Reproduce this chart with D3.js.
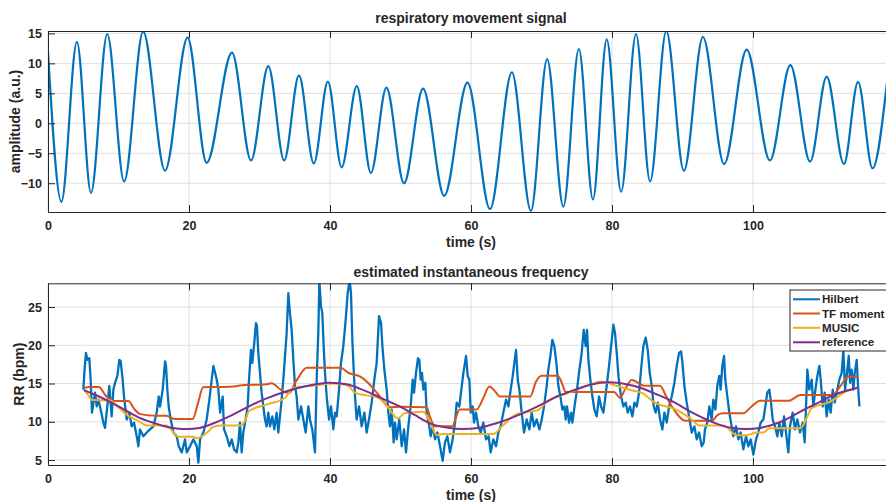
<!DOCTYPE html>
<html>
<head>
<meta charset="utf-8">
<script src="https://cdn.jsdelivr.net/npm/d3@7"></script>
<style>
  body { margin: 0; background: #ffffff; overflow: hidden; }
  text { font-family: "Liberation Sans", Arial, Helvetica, sans-serif; font-weight: bold; fill: #262626; }
</style>
</head>
<body>
<div id="chart"></div>
<script>
// respiratory movement signal: extrema (peaks / troughs)
const signalTime = [0, 1.9, 4.1, 6.1, 8.4, 10.8, 13.5, 16.6, 19.8, 22.5, 26.1, 28.8, 31.25, 33.5, 35.6, 37.7, 39.7, 41.65, 43.8, 45.8, 48.0, 50.5, 53.2, 56.2, 59.5, 62.7, 65.8, 68.5, 70.8, 73.1, 75.3, 77.3, 79.25, 81.3, 83.4, 85.4, 87.7, 90.2, 92.9, 95.9, 99.1, 102.4, 105.3, 108.1, 110.45, 112.9, 114.9, 116.95, 119.0];
const signalValue = [11.9, -13.1, 13.6, -11.6, 14.9, -9.7, 15.3, -7.9, 14.3, -6.6, 11.8, -6.2, 9.55, -6.2, 8.0, -6.7, 6.95, -7.35, 6.2, -8.3, 5.95, -10.0, 5.8, -12.1, 6.8, -14.3, 8.5, -14.6, 10.7, -13.9, 12.4, -12.7, 14.0, -11.4, 14.9, -9.7, 15.4, -7.9, 14.4, -6.8, 12.3, -6.2, 9.7, -6.4, 7.8, -6.8, 6.9, -7.5, 6.8];

// Hilbert estimate
const hilbertTime = [5.01, 5.2, 5.39, 5.58, 5.86, 6.05, 6.24, 6.67, 6.91, 7.14, 7.47, 7.85, 8.09, 8.32, 8.7, 9.03, 9.27, 9.51, 9.84, 10.12, 10.31, 10.59, 10.78, 11.16, 11.54, 11.87, 12.2, 12.58, 12.82, 13.05, 13.53, 14.0, 14.47, 14.95, 15.42, 15.7, 15.89, 16.27, 16.6, 16.74, 16.93, 17.12, 17.41, 17.78, 18.26, 18.54, 18.97, 19.44, 19.68, 20.15, 20.62, 21.1, 21.33, 21.57, 22.04, 22.51, 22.89, 23.22, 23.46, 23.7, 23.93, 24.17, 24.41, 24.78, 24.97, 25.35, 25.73, 26.06, 26.39, 26.77,
  27.0, 27.23, 27.47, 27.7, 28.03, 28.32, 28.51, 28.79, 28.98, 29.26, 29.5, 29.64, 29.83, 30.07, 30.3, 30.54, 30.78, 31.01, 31.25, 31.49, 31.82, 32.1, 32.43, 32.67, 33.05, 33.38, 33.62, 33.85, 34.09, 34.32, 34.56, 34.8, 35.03, 35.27, 35.51, 35.89, 36.22, 36.55, 36.93, 37.16, 37.49, 37.87, 38.11, 38.35, 38.49, 38.72, 38.91, 39.1, 39.29, 39.53, 39.86, 40.14, 40.47, 40.71, 40.95, 41.28, 41.56, 41.89, 42.22, 42.51, 42.79, 42.98, 43.17, 43.36, 43.55, 43.78, 44.12, 44.49, 44.87, 45.2, 45.53, 45.91, 46.29, 46.62, 46.95, 47.24, 47.43, 47.71, 48.04, 48.28, 48.51, 48.75, 49.03,
  49.22, 49.46, 49.83, 50.17, 50.5, 50.78, 51.11, 51.44, 51.73, 51.92, 52.2, 52.48, 52.67, 52.86, 53.05, 53.24, 53.52, 53.71, 54.0, 54.28, 54.56, 54.9, 55.23, 55.61, 55.98, 56.31, 56.65, 57.02, 57.4, 57.73, 57.97, 58.35, 58.63, 58.92, 59.3, 59.53, 59.77, 59.96, 60.24, 60.43, 60.71, 61.04, 61.38, 61.75, 62.13, 62.51, 62.79, 63.17, 63.55, 63.88, 64.21, 64.59, 64.97, 65.3, 65.63, 65.92, 66.2, 66.39, 66.63, 66.86, 67.19, 67.52, 67.9, 68.28, 68.61, 68.94, 69.32, 69.7, 70.03, 70.36, 70.74,
  70.97, 71.26, 71.54, 71.82, 72.11, 72.39, 72.68, 72.96, 73.24, 73.43, 73.62, 73.91, 74.19, 74.38, 74.76, 75.04, 75.32, 75.7, 75.99, 76.27, 76.46, 76.65, 76.93, 77.22, 77.5, 77.83, 78.16, 78.45, 78.78, 79.01, 79.3, 79.58, 79.87, 80.2, 80.43, 80.67, 80.91, 81.28, 81.62, 81.95, 82.23, 82.56, 82.89, 83.18, 83.51, 83.84, 84.12, 84.45, 84.78, 85.07, 85.35, 85.64, 85.92, 86.2, 86.49, 86.82, 87.15, 87.43, 87.76, 88.1, 88.47, 88.85, 89.18, 89.51, 89.8, 89.99, 90.27, 90.6, 90.93, 91.31, 91.69, 92.02, 92.35, 92.73, 93.01,
  93.19, 93.52, 93.8, 94.14, 94.37, 94.66, 94.94, 95.22, 95.41, 95.65, 95.89, 96.07, 96.36, 96.64, 96.97, 97.21, 97.59, 97.92, 98.25, 98.63, 99.01, 99.34, 99.67, 100.05, 100.43, 100.76, 101.09, 101.47, 101.75, 102.03, 102.32, 102.55, 102.79, 103.12, 103.45, 103.74, 104.07, 104.4, 104.68, 105.01, 105.25, 105.63, 105.96, 106.29, 106.67, 107.05, 107.33, 107.52, 107.71, 107.99, 108.33, 108.56, 108.85, 109.13, 109.41, 109.6, 109.89, 110.17, 110.45, 110.74, 111.02, 111.31, 111.59, 111.87, 112.25, 112.58, 112.82, 113.06, 113.29, 113.58, 113.77, 114.0, 114.24, 114.43, 114.71, 114.9, 115.09];
const hilbertValue = [14.2, 17.0, 19.0, 18.1, 18.3, 15.5, 11.2, 13.8, 12.0, 12.9, 11.6, 9.9, 9.2, 11.2, 14.7, 10.7, 14.2, 15.1, 16.0, 18.1, 17.9, 15.5, 13.3, 10.3, 11.2, 9.4, 9.9, 8.1, 6.8, 9.0, 8.1, 8.6, 9.0, 9.4, 11.2, 13.3, 12.0, 14.2, 17.9, 17.3, 14.2, 12.0, 10.3, 8.6, 8.1, 6.8, 6.0, 7.7, 6.0, 6.8, 7.7, 6.8, 4.65, 7.7, 8.6, 10.3, 12.9, 15.5, 17.3, 16.4, 15.5, 14.2, 11.2, 13.3, 9.0, 8.1, 6.8, 7.7, 6.4, 6.0,
  7.3, 9.9, 6.0, 8.6, 10.3, 12.0, 15.5, 19.4, 17.7, 20.3, 22.9, 22.5, 19.0, 16.4, 13.8, 12.0, 10.3, 9.4, 11.2, 9.4, 10.7, 9.0, 11.2, 8.6, 12.0, 15.5, 18.6, 21.6, 26.8, 24.2, 22.0, 18.1, 14.7, 13.3, 10.3, 12.0, 10.3, 8.6, 12.0, 10.3, 9.0, 6.0, 15.5, 22.0, 28.5, 25.1, 24.2, 19.9, 16.4, 13.3, 10.3, 12.0, 9.0, 11.2, 10.7, 14.2, 17.7, 19.9, 23.3, 26.8, 28.5, 26.8, 20.7, 16.8, 13.3, 10.3, 12.0, 9.4, 11.2, 8.6, 10.3, 12.5, 15.5, 17.7, 23.8, 22.9, 19.9, 16.8, 14.2, 11.2, 9.4, 11.6, 7.3,
  9.9, 7.7, 10.3, 6.8, 9.0, 6.0, 9.4, 12.0, 15.5, 13.8, 16.4, 18.3, 18.1, 15.5, 16.4, 14.2, 15.1, 11.2, 9.9, 8.1, 9.4, 7.7, 8.6, 6.8, 4.9, 7.3, 8.1, 6.0, 7.7, 9.9, 12.5, 12.0, 14.2, 16.4, 18.6, 16.0, 15.5, 11.2, 12.0, 9.9, 11.2, 9.4, 8.6, 9.9, 7.7, 8.1, 6.0, 7.7, 6.8, 8.6, 9.4, 11.2, 12.9, 12.0, 14.2, 16.0, 18.1, 19.4, 15.5, 14.2, 11.2, 8.6, 10.3, 9.0, 11.2, 9.4, 10.3, 9.0, 10.3, 12.0, 14.7,
  16.8, 18.6, 20.7, 19.9, 17.7, 14.7, 13.3, 11.6, 12.0, 10.3, 12.0, 9.9, 11.2, 9.9, 12.5, 14.2, 16.4, 19.0, 22.0, 19.9, 22.0, 18.1, 15.5, 13.3, 11.6, 10.7, 13.3, 12.0, 11.2, 12.9, 15.1, 17.3, 19.9, 22.7, 21.6, 19.0, 16.0, 13.3, 12.0, 12.5, 11.2, 12.0, 10.7, 12.5, 12.0, 13.8, 16.8, 19.9, 21.0, 19.4, 16.4, 14.7, 12.0, 11.2, 12.5, 10.3, 9.0, 11.2, 9.9, 12.0, 13.3, 15.1, 17.3, 19.0, 19.2, 17.7, 14.7, 12.5, 10.7, 8.6, 9.4, 7.7, 8.6, 6.8, 7.3,
  9.0, 9.9, 12.0, 10.3, 12.9, 11.6, 14.7, 16.0, 14.2, 17.3, 18.6, 15.5, 13.3, 11.2, 9.4, 8.1, 9.4, 7.7, 8.6, 6.4, 8.1, 6.8, 7.7, 5.7, 7.7, 8.6, 9.9, 10.3, 12.0, 13.8, 14.2, 12.5, 10.3, 9.4, 8.1, 9.9, 8.1, 10.7, 8.6, 6.0, 9.4, 11.2, 9.0, 10.3, 8.6, 9.9, 7.3, 12.0, 16.8, 14.2, 15.5, 12.0, 14.2, 16.0, 17.3, 15.5, 12.0, 13.8, 10.7, 12.9, 11.2, 14.2, 12.5, 13.8, 15.5, 16.4, 19.4, 14.2, 16.0, 18.6, 15.1, 16.8, 14.2, 16.4, 18.1, 14.7, 12.0];

// TF moment estimate
const tfTime = [5.1, 5.8, 7.2, 8.2, 9.3, 11.4, 12.3, 13.1, 15.4, 16.8, 18.0, 20.5, 21.3, 22.0, 24.5, 26.3, 27.2, 31.0, 31.7, 33.0, 33.6, 34.3, 35.0, 35.6, 36.7, 39.0, 41.5, 42.6, 44.3, 45.5, 46.9, 48.5, 49.9, 53.7, 54.2, 54.9, 57.3, 58.4, 60.8, 61.7, 62.6, 63.4, 64.1, 68.4, 69.2, 70.0, 72.3, 73.0, 73.4, 80.3, 81.1, 82.0, 82.8, 84.6, 86.8, 87.7, 88.5, 90.4, 94.2, 95.0, 95.8, 98.6, 99.8, 101.0, 105.1, 106.7, 111.3, 112.5, 113.5, 114.85];
const tfValue = [14.4, 14.55, 14.55, 13.4, 12.7, 12.7, 11.6, 11.0, 10.8, 10.8, 10.35, 10.35, 12.5, 14.5, 14.55, 14.6, 14.75, 14.9, 15.05, 14.2, 13.85, 13.8, 15.0, 15.9, 17.05, 17.05, 17.05, 16.4, 15.9, 15.0, 13.5, 11.9, 11.95, 11.9, 10.6, 9.4, 9.4, 11.6, 11.6, 13.0, 14.6, 14.0, 13.3, 13.3, 15.2, 16.0, 16.0, 14.8, 13.9, 13.9, 13.15, 14.5, 15.45, 14.7, 14.7, 13.3, 12.0, 10.15, 10.15, 10.9, 11.1, 11.1, 12.0, 12.75, 12.75, 13.5, 13.5, 14.8, 15.9, 15.9];

// MUSIC estimate
const musicTime = [5.1, 5.7, 6.2, 8.8, 9.5, 11.2, 13.05, 14.0, 16.8, 17.3, 18.5, 20.6, 21.1, 22.7, 23.45, 24.5, 27.2, 27.9, 28.5, 31.2, 33.6, 34.8, 37.4, 40.7, 42.6, 43.5, 46.9, 48.3, 49.6, 50.6, 53.2, 54.2, 55.1, 56.0, 58.9, 63.2, 64.6, 66.5, 69.55, 70.7, 73.6, 75.5, 76.9, 78.3, 80.7, 82.6, 84.4, 85.9, 89.2, 91.1, 92.5, 95.8, 97.7, 99.1, 100.5, 101.4, 102.4, 106.7, 107.6, 108.3, 110.9, 113.3, 114.85];
const musicValue = [14.15, 13.5, 12.85, 12.8, 12.3, 10.9, 10.0, 9.5, 9.5, 9.15, 8.05, 8.05, 7.85, 8.7, 9.35, 9.5, 9.5, 10.0, 11.4, 12.3, 13.1, 14.4, 14.7, 15.0, 14.7, 13.8, 13.1, 11.8, 10.45, 11.1, 11.3, 10.0, 8.25, 8.4, 8.4, 8.4, 9.6, 11.0, 11.55, 12.6, 13.7, 14.4, 14.8, 15.25, 14.7, 14.15, 13.7, 12.6, 11.55, 10.45, 9.5, 9.5, 8.25, 8.25, 8.6, 8.6, 9.15, 9.15, 10.45, 11.75, 12.6, 14.0, 14.4];

// reference
const refTime = [5.1, 7, 8.8, 11, 13, 15, 16.8, 18.5, 19.7, 21.5, 23.5, 25.5, 27.2, 29, 31, 33.5, 35.6, 38, 40, 42.4, 44.3, 46.1, 48, 49.9, 52, 54.2, 56.5, 58.9, 61, 63.6, 66, 68.4, 70.3, 72.2, 74.5, 76.9, 79.7, 82, 84, 86.3, 88.7, 91, 93.4, 95, 96.7, 99.1, 101, 103.4, 105.5, 107.6, 109.5, 111.4, 113, 114.85];
const refValue = [14.15, 13.4, 12.6, 11.5, 10.5, 9.85, 9.35, 9.1, 9.05, 9.2, 9.8, 10.6, 11.4, 12.25, 13.05, 13.9, 14.45, 14.9, 15.1, 14.9, 14.3, 13.6, 12.8, 12.0, 10.9, 9.8, 9.25, 9.05, 9.2, 9.8, 10.6, 11.55, 12.4, 13.3, 14.1, 14.85, 15.15, 14.9, 14.45, 13.6, 12.6, 11.4, 10.3, 9.7, 9.25, 9.05, 9.2, 9.8, 10.7, 11.75, 12.6, 13.5, 14.0, 14.45];

const xTicks = [0, 20, 40, 60, 80, 100];
const topYTicks = [-10, -5, 0, 5, 10, 15];
const bottomYTicks = [5, 10, 15, 20, 25];
const legendLabels = ["Hilbert", "TF moment", "MUSIC", "reference"];
const colors = ["#0072BD", "#D95319", "#EDB120", "#7E2F8E"];

const width = 886;
const height = 502;
const axisColor = "#262626";
const gridColor = "#dfdfdf";
const fontFamily = "\"Liberation Sans\", Arial, sans-serif";

const svg = d3
  .select("#chart")
  .append("svg")
  .attr("width", width)
  .attr("height", height)
  .style("display", "block");

const zip = (xs, ys) => xs.map((x, i) => [x, ys[i]]);

const drawPanel = (cfg) => {
  const x = d3.scaleLinear().domain([0, 120]).range([48, 894]);
  const y = d3.scaleLinear().domain(cfg.yDomain).range([cfg.bottom, cfg.top]);

  const g = svg.append("g");

  // grid
  g.selectAll(".vgrid")
    .data(xTicks)
    .enter()
    .append("line")
    .attr("x1", (d) => x(d))
    .attr("x2", (d) => x(d))
    .attr("y1", cfg.top)
    .attr("y2", cfg.bottom)
    .attr("stroke", gridColor)
    .attr("stroke-width", 1);

  g.selectAll(".hgrid")
    .data(cfg.yTicks)
    .enter()
    .append("line")
    .attr("x1", 48)
    .attr("x2", 894)
    .attr("y1", (d) => y(d))
    .attr("y2", (d) => y(d))
    .attr("stroke", gridColor)
    .attr("stroke-width", 1);

  // lines
  const clipId = `clip-${cfg.name}`;
  svg
    .append("clipPath")
    .attr("id", clipId)
    .append("rect")
    .attr("x", 48)
    .attr("y", cfg.top)
    .attr("width", 846)
    .attr("height", cfg.bottom - cfg.top);

  const lineGroup = g.append("g").attr("clip-path", `url(#${clipId})`);

  cfg.series.forEach((s) => {
    const line = d3
      .line()
      .x((d) => x(d[0]))
      .y((d) => y(d[1]))
      .curve(s.curve);

    lineGroup
      .append("path")
      .datum(s.points)
      .attr("fill", "none")
      .attr("stroke", s.color)
      .attr("stroke-width", s.width)
      .attr("stroke-linejoin", "round")
      .attr("d", line);
  });

  // axes, ticks pointing inward
  const bottomAxis = g
    .append("g")
    .attr("transform", `translate(0, ${cfg.bottom})`)
    .call(d3.axisBottom(x).tickValues(xTicks).tickSizeInner(-7).tickSizeOuter(0).tickPadding(9));

  const topAxis = g
    .append("g")
    .attr("transform", `translate(0, ${cfg.top})`)
    .call(d3.axisTop(x).tickValues(xTicks).tickSizeInner(-7).tickSizeOuter(0).tickFormat(""));

  const leftAxis = g
    .append("g")
    .attr("transform", "translate(48, 0)")
    .call(d3.axisLeft(y).tickValues(cfg.yTicks).tickSizeInner(-7).tickSizeOuter(0).tickPadding(6));

  [bottomAxis, topAxis, leftAxis].forEach((a) => {
    a.selectAll("path, line").attr("stroke", axisColor);
    a.selectAll("text")
      .attr("fill", axisColor)
      .style("font-size", "12.5px")
      .style("font-weight", "bold")
      .style("font-family", fontFamily);
  });

  g.append("text")
    .attr("x", 471)
    .attr("y", cfg.titleY)
    .attr("text-anchor", "middle")
    .style("font-size", "14px")
    .text(cfg.title);

  g.append("text")
    .attr("x", 471)
    .attr("y", cfg.xLabelY)
    .attr("text-anchor", "middle")
    .style("font-size", "14px")
    .text("time (s)");

  g.append("text")
    .attr("transform", `translate(${cfg.yLabelX}, ${(cfg.top + cfg.bottom) / 2}) rotate(-90)`)
    .attr("dy", "0.35em")
    .attr("text-anchor", "middle")
    .style("font-size", "14px")
    .text(cfg.yLabel);

  return g;
};

drawPanel({
  name: "top",
  top: 31,
  bottom: 212,
  yDomain: [-14.8, 15.4],
  yTicks: topYTicks,
  title: "respiratory movement signal",
  titleY: 23,
  xLabelY: 247,
  yLabel: "amplitude (a.u.)",
  yLabelX: 15,
  series: [
    { points: zip(signalTime, signalValue), color: colors[0], width: 2.2, curve: d3.curveMonotoneX },
  ],
});

const bottomPanel = drawPanel({
  name: "bottom",
  top: 283.3,
  bottom: 465,
  yDomain: [4.35, 28.1],
  yTicks: bottomYTicks,
  title: "estimated instantaneous frequency",
  titleY: 276.5,
  xLabelY: 499.5,
  yLabel: "RR (bpm)",
  yLabelX: 19,
  series: [
    { points: zip(hilbertTime, hilbertValue), color: colors[0], width: 2.3, curve: d3.curveLinear },
    { points: zip(tfTime, tfValue), color: colors[1], width: 2, curve: d3.curveMonotoneX },
    { points: zip(musicTime, musicValue), color: colors[2], width: 2, curve: d3.curveMonotoneX },
    { points: zip(refTime, refValue), color: colors[3], width: 2, curve: d3.curveMonotoneX },
  ],
});

// legend
const legend = bottomPanel.append("g").attr("transform", "translate(790, 290)");

legend
  .append("rect")
  .attr("width", 100)
  .attr("height", 61)
  .attr("fill", "#ffffff")
  .attr("stroke", axisColor)
  .attr("stroke-width", 1);

const legendRows = [9.3, 23.5, 37.8, 52.3];

legendLabels.forEach((label, i) => {
  legend
    .append("line")
    .attr("x1", 3)
    .attr("x2", 30)
    .attr("y1", legendRows[i])
    .attr("y2", legendRows[i])
    .attr("stroke", colors[i])
    .attr("stroke-width", 2);

  legend
    .append("text")
    .attr("x", 32)
    .attr("y", legendRows[i])
    .attr("dy", "0.35em")
    .style("font-size", "11.6px")
    .text(label);
});
</script>
</body>
</html>
